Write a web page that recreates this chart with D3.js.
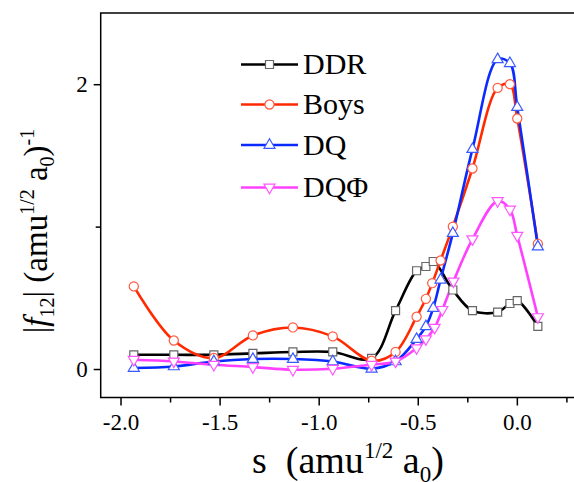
<!DOCTYPE html>
<html>
<head>
<meta charset="utf-8">
<script src="https://cdn.jsdelivr.net/npm/d3@7"></script>
<style>
  body { margin: 0; background: #fff; }
  svg { display: block; }
  .axis path, .axis line { stroke: #000; stroke-width: 1.5px; }
</style>
</head>
<body>
<svg id="chart" width="574" height="482"></svg>
<script>
// s values (amu^1/2 a0) and |f12| for each method
var sDDR  = [-1.933, -1.731, -1.529, -1.332, -1.130, -0.929, -0.733, -0.612, -0.506, -0.459, -0.422, -0.323, -0.224, -0.097, -0.035, 0.002, 0.106];
var fDDR  = [0.10, 0.10, 0.10, 0.11, 0.12, 0.12, 0.075, 0.41, 0.69, 0.72, 0.755, 0.555, 0.41, 0.40, 0.46, 0.48, 0.30];

var sBoys = [-1.933, -1.731, -1.529, -1.332, -1.130, -0.929, -0.733, -0.612, -0.506, -0.459, -0.427, -0.385, -0.323, -0.224, -0.097, -0.035, 0.002, 0.106];
var fBoys = [0.58, 0.20, 0.077, 0.236, 0.292, 0.229, 0.058, 0.12, 0.367, 0.493, 0.603, 0.762, 1.0, 1.408, 1.974, 2.0, 1.759, 0.879];

var sDQ   = [-1.933, -1.731, -1.529, -1.332, -1.130, -0.929, -0.733, -0.612, -0.506, -0.459, -0.422, -0.385, -0.323, -0.224, -0.097, -0.035, 0.002, 0.106];
var fDQ   = [0.007, 0.018, 0.053, 0.07, 0.07, 0.053, 0.002, 0.053, 0.21, 0.30, 0.428, 0.627, 0.954, 1.544, 2.175, 2.147, 1.839, 0.86];

var sPhi  = [-1.933, -1.731, -1.529, -1.332, -1.130, -0.929, -0.733, -0.612, -0.506, -0.459, -0.415, -0.376, -0.320, -0.224, -0.097, -0.035, 0.002, 0.106];
var fPhi  = [0.065, 0.053, 0.03, 0.014, -0.005, 0.002, 0.03, 0.053, 0.147, 0.21, 0.29, 0.416, 0.615, 0.912, 1.18, 1.12, 0.937, 0.365];

var names   = ["DDR", "Boys", "DQ", "DQ\u03A6"];
var xTicks  = [-2.0, -1.5, -1.0, -0.5, 0.0];
var xMinor  = [-1.75, -1.25, -0.75, -0.25, 0.25];
var yTicks  = [0, 2];
var yMinor  = [1];

var series = [
  {name: names[0], s: sDDR,  f: fDDR,  line: "#000000", mark: "#666666", shape: "square"},
  {name: names[1], s: sBoys, f: fBoys, line: "#ff2a00", mark: "#ff5a40", shape: "circle"},
  {name: names[2], s: sDQ,   f: fDQ,   line: "#0a2aff", mark: "#3a5aff", shape: "up"},
  {name: names[3], s: sPhi,  f: fPhi,  line: "#ff40ff", mark: "#ff55ff", shape: "down"}
];

var SERIF = "Liberation Serif";
var svg = d3.select("#chart");
var pl = 100.7, pt = 13, pb = 397.5, pr = 576.3;

var x = d3.scaleLinear().domain([-2.1, 0.3]).range([pl, pr]);
var y = d3.scaleLinear().domain([-0.2, 2.5]).range([pb, pt]);

// frame: left, bottom, top (right edge falls outside the picture)
svg.append("path")
   .attr("d", "M" + pr + "," + pt + "H" + pl + "V" + pb + "H" + pr)
   .attr("fill", "none").attr("stroke", "#000").attr("stroke-width", 1.5);

var xAxis = svg.append("g").attr("class", "axis")
   .attr("transform", "translate(0," + pb + ")")
   .call(d3.axisBottom(x).tickValues(xTicks).tickSize(8)
         .tickFormat(function(d) { return d3.format(".1f")(d).replace("\u2212", "-"); }));
xAxis.select(".domain").remove();
xAxis.selectAll("text").attr("y", 32.5).attr("dy", 0);

var xMin = svg.append("g").attr("class", "axis")
   .attr("transform", "translate(0," + pb + ")")
   .call(d3.axisBottom(x).tickValues(xMinor).tickSize(5).tickFormat(""));
xMin.select(".domain").remove();

var yAxis = svg.append("g").attr("class", "axis")
   .attr("transform", "translate(" + pl + ",0)")
   .call(d3.axisLeft(y).tickValues(yTicks).tickSize(7).tickPadding(6).tickFormat(d3.format("d")));
yAxis.select(".domain").remove();

var yMin = svg.append("g").attr("class", "axis")
   .attr("transform", "translate(" + pl + ",0)")
   .call(d3.axisLeft(y).tickValues(yMinor).tickSize(5).tickFormat(""));
yMin.select(".domain").remove();

svg.selectAll(".axis").attr("font-family", SERIF).attr("font-size", 23);
svg.selectAll(".axis text").attr("fill", "#000");

function shapePath(shape) {
  if (shape == "square") return "M-4,-4H4V4H-4Z";
  if (shape == "up") return "M0,-6.2L5.5,3.3H-5.5Z";
  if (shape == "down") return "M0,6.2L5.5,-3.3H-5.5Z";
  return d3.symbol(d3.symbolCircle, 66)();
}

var line = d3.line()
   .x(function(d) { return x(d[0]); })
   .y(function(d) { return y(d[1]); })
   .curve(d3.curveCatmullRom.alpha(0.5));

var plot = svg.append("g");

series.forEach(function(sr) {
  var pts = sr.s.map(function(v, i) { return [v, sr.f[i]]; });
  plot.append("path").datum(pts)
      .attr("d", line)
      .attr("fill", "none")
      .attr("stroke", sr.line)
      .attr("stroke-width", 2.6)
      .attr("stroke-linejoin", "round");
  sr.pts = pts;
});

series.forEach(function(sr) {
  plot.selectAll(null).data(sr.pts).enter().append("path")
      .attr("d", shapePath(sr.shape))
      .attr("transform", function(d) { return "translate(" + x(d[0]) + "," + y(d[1]) + ")"; })
      .attr("fill", "#fff")
      .attr("stroke", sr.mark)
      .attr("stroke-width", 1.2);
});

// legend
var legY = [64.5, 104.5, 145, 187.5];
var leg = svg.append("g");
series.forEach(function(sr, i) {
  var g = leg.append("g").attr("transform", "translate(0," + legY[i] + ")");
  g.append("line").attr("x1", 241).attr("x2", 298).attr("y1", 0).attr("y2", 0)
   .attr("stroke", sr.line).attr("stroke-width", 2.6);
  g.append("path").attr("d", shapePath(sr.shape))
   .attr("transform", "translate(269.5,0)")
   .attr("fill", "#fff").attr("stroke", sr.mark).attr("stroke-width", 1.2);
  g.append("text").attr("x", 303).attr("y", 9.5)
   .attr("font-family", SERIF).attr("font-size", 30).attr("fill", "#000")
   .text(sr.name);
});

// x title
var xt = svg.append("text").attr("x", 252).attr("y", 473)
   .attr("font-family", SERIF).attr("font-size", 38).attr("fill", "#000");
xt.append("tspan").text("s\u00A0\u00A0(amu");
xt.append("tspan").attr("font-size", 23).attr("dy", -15).text("1/2");
xt.append("tspan").attr("dy", 15).text(" a");
xt.append("tspan").attr("font-size", 23).attr("dy", 9).text("0");
xt.append("tspan").attr("dy", -9).text(")");

// y title
var yt = svg.append("text")
   .attr("transform", "translate(47,231) rotate(-90)")
   .attr("text-anchor", "middle")
   .attr("font-family", SERIF).attr("font-size", 33).attr("fill", "#000");
yt.append("tspan").text("|");
yt.append("tspan").attr("font-style", "italic").text("f");
yt.append("tspan").attr("font-size", 20).attr("dy", 7).text("12");
yt.append("tspan").attr("dy", -7).text("| (amu");
yt.append("tspan").attr("font-size", 20).attr("dy", -13).text("1/2");
yt.append("tspan").attr("dy", 13).text(" a");
yt.append("tspan").attr("font-size", 20).attr("dy", 7).text("0");
yt.append("tspan").attr("dy", -7).text(")");
yt.append("tspan").attr("font-size", 20).attr("dy", -13).text("-1");
</script>
</body>
</html>
